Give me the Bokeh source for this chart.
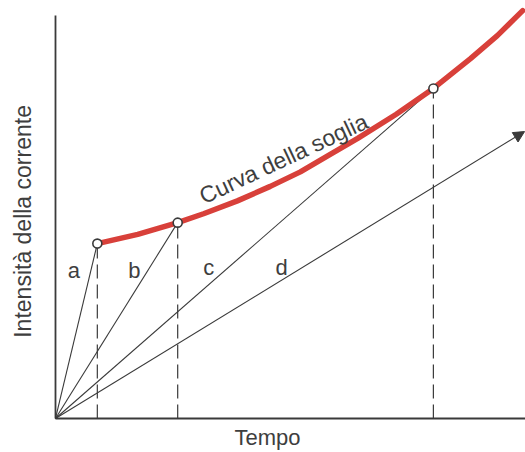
from bokeh.plotting import figure
from bokeh.models import Range1d, Label, Arrow, NormalHead
from bokeh.embed import file_html
from bokeh.resources import INLINE
from bokeh.core.properties import value
import math

# --- data (arbitrary units) ---
curve_t = [0.89, 1.75, 2.60, 3.15, 3.87, 4.57, 5.21, 5.80, 6.43, 7.25, 8.04, 8.83, 9.40, 9.94]
curve_i = [4.34, 4.57, 4.86, 5.08, 5.40, 5.76, 6.12, 6.52, 6.95, 7.55, 8.19, 8.93, 9.50, 10.12]
point_t = [0.89, 2.60, 8.04]
point_i = [4.34, 4.86, 8.19]
arrow_d = [9.98, 7.12]
axis_t = [0, 10.0]
axis_i = [0, 10.0]
line_names = ["a", "b", "c", "d"]
name_t = [0.39, 1.68, 3.26, 4.81]
name_i = [3.67, 3.67, 3.75, 3.75]
x_title = "Tempo"
y_title = "Intensità della corrente"
curve_title = "Curva della soglia"

INK = "#3a3a3a"
RED = "#d8403a"
TXT = "#3e3e3e"
FONT = "Liberation Sans"

p = figure(width=525, height=452, output_backend="svg", toolbar_location=None,
           x_range=Range1d(-1.17, 10.0), y_range=Range1d(-0.844, 10.372),
           min_border=0)
p.outline_line_color = None
p.grid.visible = False
p.axis.visible = False
p.background_fill_color = "white"
p.border_fill_color = "white"

# axes drawn as lines on the data scale
p.segment(x0=[axis_t[0], axis_t[0]], y0=[axis_i[0], axis_i[0]],
          x1=[axis_t[0], axis_t[1]], y1=[axis_i[1], axis_i[0]],
          line_color=INK, line_width=1.8)

# dashed verticals
p.segment(x0=point_t, y0=[0] * 3, x1=point_t, y1=point_i,
          line_color=INK, line_width=1.2, line_dash="14 6")
# rays a, b, c from origin
p.segment(x0=[0] * 3, y0=[0] * 3, x1=point_t, y1=point_i, line_color=INK, line_width=1.1)
# ray d with arrow
p.add_layout(Arrow(end=NormalHead(size=11, fill_color=INK, line_color=INK, line_width=1),
                   x_start=0, y_start=0, x_end=arrow_d[0], y_end=arrow_d[1],
                   line_color=INK, line_width=1.1))
# threshold curve
p.line(curve_t, curve_i, line_color=RED, line_width=5.5, line_cap="round", line_join="round")
p.scatter(point_t, point_i, size=9, fill_color="white", line_color=INK, line_width=1.6)

# letters
p.text(x=name_t, y=name_i, text=line_names, text_font=value(FONT), text_font_size="22px",
       text_color=TXT, text_align="center", text_baseline="middle")

p.add_layout(Label(x=3.09, y=5.49, text=curve_title, angle=math.radians(25),
                   text_font=FONT, text_font_size="23px", text_color=TXT,
                   text_align="left", text_baseline="alphabetic"))
p.add_layout(Label(x=4.51, y=-0.47, text=x_title, text_font=FONT, text_font_size="22px",
                   text_color=TXT, text_align="center", text_baseline="middle"))
p.add_layout(Label(x=-0.70, y=4.89, text=y_title, angle=math.pi / 2, text_font=FONT,
                   text_font_size="23px", text_color=TXT, text_align="center",
                   text_baseline="middle"))

open("out.html", "w").write(file_html(p, INLINE))
